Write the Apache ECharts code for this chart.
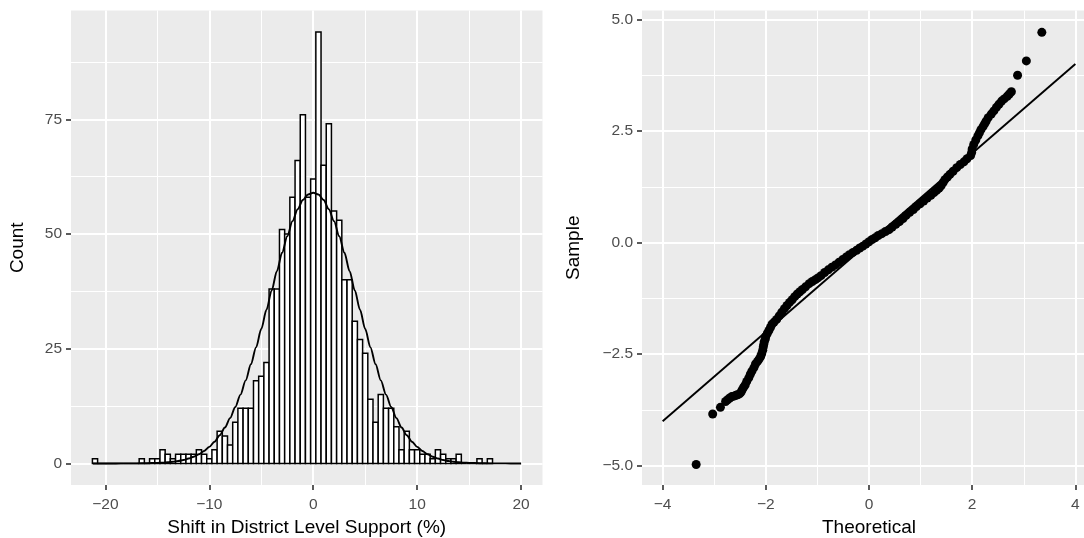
<!DOCTYPE html>
<html>
<head>
<meta charset="utf-8">
<script src="https://cdn.jsdelivr.net/npm/echarts@6/dist/echarts.min.js"></script>
<style>
  html, body { margin: 0; padding: 0; background: #ffffff; }
  #chart { width: 1084px; height: 538px; }
</style>
</head>
<body>
<div id="chart"></div>
<script>
// ---- Histogram: shift in district level support, 0.5-point bins ----
const binWidth = 0.5;
const binCenters = [
  -21, -20.5, -20, -19.5, -19, -18.5, -18, -17.5, -17,
  -16.5, -16, -15.5, -15, -14.5, -14, -13.5, -13, -12.5,
  -12, -11.5, -11, -10.5, -10, -9.5, -9, -8.5, -8,
  -7.5, -7, -6.5, -6, -5.5, -5, -4.5, -4, -3.5,
  -3, -2.5, -2, -1.5, -1, -0.5, 0, 0.5, 1,
  1.5, 2, 2.5, 3, 3.5, 4, 4.5, 5, 5.5,
  6, 6.5, 7, 7.5, 8, 8.5, 9, 9.5, 10,
  10.5, 11, 11.5, 12, 12.5, 13, 13.5, 14, 14.5,
  15, 15.5, 16, 16.5, 17
];
const binCounts = [
  1, 0, 0, 0, 0, 0, 0, 0, 0,
  1, 0, 1, 1, 3, 2, 1, 2, 2,
  2, 2, 3, 2, 1, 3, 7, 6, 4,
  9, 12, 12, 12, 18, 19, 22, 38, 38,
  51, 50, 58, 66, 76, 58, 62, 94, 65,
  74, 55, 53, 40, 40, 31, 27, 24, 14,
  9, 15, 12, 12, 8, 3, 7, 3, 3,
  2, 2, 1, 3, 2, 1, 1, 2, 0,
  0, 0, 1, 0, 1
];

// Fitted normal density, scaled to counts
const curveX = [
  -21.2, -20, -19, -18, -17, -16, -15,
  -14.5, -14, -13.5, -13, -12.5, -12, -11.5, -11, -10.5, -10,
  -9.5, -9, -8.5, -8, -7.5, -7, -6.5, -6, -5.5, -5,
  -4.5, -4, -3.5, -3, -2.5, -2, -1.5, -1, -0.5, 0,
  0.5, 1, 1.5, 2, 2.5, 3, 3.5, 4, 4.5, 5,
  5.5, 6, 6.5, 7, 7.5, 8, 8.5, 9, 9.5, 10,
  10.5, 11, 11.5, 12, 12.5, 13, 13.5, 14, 14.5,
  15, 16, 17, 18, 19, 20
];
const curveY = [
  0, 0, 0, 0.01, 0.02, 0.05, 0.11,
  0.17, 0.25, 0.36, 0.53, 0.75, 1.06, 1.47, 2.01, 2.71, 3.61,
  4.74, 6.14, 7.84, 9.87, 12.3, 15.0, 18.1, 21.6, 25.3, 29.3,
  33.5, 37.7, 41.9, 45.9, 49.5, 52.8, 55.4, 57.4, 58.6, 59.0,
  58.6, 57.4, 55.4, 52.8, 49.5, 45.9, 41.9, 37.7, 33.5, 29.3,
  25.3, 21.6, 18.1, 15.0, 12.3, 9.87, 7.84, 6.14, 4.74, 3.61,
  2.71, 2.01, 1.47, 1.06, 0.75, 0.53, 0.36, 0.25, 0.17,
  0.11, 0.05, 0.02, 0.01, 0, 0
];

// ---- Normal Q-Q plot of the standardised shifts ----
const qqTheoretical = [
  -3.35, -3.03, -2.88, -2.78, -2.74, -2.70, -2.66, -2.62, -2.58, -2.55, -2.51, -2.48,
  -2.46, -2.43, -2.40, -2.37, -2.33, -2.30, -2.27, -2.23, -2.20, -2.16, -2.13, -2.10,
  -2.08, -2.06, -2.05, -2.04, -2.03, -2.01, -2.00, -1.97, -1.94, -1.91, -1.88, -1.84,
  -1.79, -1.74, -1.69, -1.64, -1.59, -1.54, -1.49, -1.44, -1.39, -1.34, -1.29, -1.23,
  -1.16, -1.10, -1.04, -0.99, -0.93, -0.86, -0.79, -0.72, -0.65, -0.58, -0.51, -0.44,
  -0.38, -0.31, -0.24, -0.18, -0.12, -0.06, 0.00, 0.06, 0.12, 0.18, 0.25, 0.32,
  0.39, 0.45, 0.52, 0.59, 0.66, 0.72, 0.79, 0.86, 0.92, 0.99, 1.06, 1.13,
  1.20, 1.26, 1.31, 1.36, 1.40, 1.44, 1.47, 1.52, 1.57, 1.63, 1.70, 1.77,
  1.84, 1.90, 1.97, 1.99, 2.00, 2.03, 2.07, 2.11, 2.14, 2.17, 2.21, 2.24,
  2.27, 2.31, 2.37, 2.42, 2.47, 2.52, 2.57, 2.62, 2.68, 2.72, 2.76,
  2.88, 3.05, 3.35
];
const qqSample = [
  -4.97, -3.84, -3.69, -3.56, -3.52, -3.48, -3.45, -3.44, -3.42, -3.41, -3.39, -3.35,
  -3.30, -3.24, -3.19, -3.11, -3.03, -2.95, -2.88, -2.80, -2.72, -2.66, -2.61, -2.55,
  -2.49, -2.41, -2.34, -2.28, -2.22, -2.16, -2.10, -2.03, -1.97, -1.90, -1.83, -1.78,
  -1.72, -1.64, -1.56, -1.48, -1.41, -1.34, -1.28, -1.21, -1.15, -1.10, -1.05, -0.99,
  -0.92, -0.87, -0.83, -0.79, -0.74, -0.67, -0.61, -0.55, -0.50, -0.44, -0.38, -0.32,
  -0.27, -0.22, -0.17, -0.12, -0.08, -0.03, 0.02, 0.07, 0.11, 0.16, 0.20, 0.25,
  0.29, 0.35, 0.41, 0.47, 0.54, 0.61, 0.68, 0.74, 0.81, 0.87, 0.93, 1.00,
  1.06, 1.12, 1.17, 1.22, 1.28, 1.35, 1.41, 1.47, 1.53, 1.60, 1.68, 1.75,
  1.81, 1.88, 1.95, 2.02, 2.10, 2.20, 2.30, 2.39, 2.46, 2.53, 2.60, 2.66,
  2.72, 2.80, 2.88, 2.95, 3.03, 3.10, 3.17, 3.22, 3.28, 3.33, 3.38,
  3.75, 4.07, 4.71
];
// Reference line (slope 1 through the origin)
const qqLineX = [-4, 4];
const qqLineY = [-4, 4];

// ---- Axis breaks ----
const histXBreaks = [-20, -10, 0, 10, 20];
const histXMinor = [-15, -5, 5, 15];
const histYBreaks = [0, 25, 50, 75];
const histYMinor = [12.5, 37.5, 62.5, 87.5];
const qqXBreaks = [-4, -2, 0, 2, 4];
const qqXMinor = [-3, -1, 1, 3];
const qqYBreaks = [-5, -2.5, 0, 2.5, 5];
const qqYMinor = [-3.75, -1.25, 1.25, 3.75];

// ---- Styling helpers ----
const FONT = 'Liberation Sans, Arial, Helvetica, sans-serif';
const PANEL_BG = '#EBEBEB';
const minus = s => String(s).replace('-', '\u2212');

function majorAxis(opts) {
  return Object.assign({
    type: 'value',
    axisLine: { show: false, onZero: false },
    axisTick: {
      show: true, length: 5, inside: false,
      lineStyle: { color: '#333333', width: 1.6 },
      customValues: opts.breaks
    },
    axisLabel: {
      customValues: opts.breaks,
      color: '#4D4D4D', fontSize: 15.5, fontFamily: FONT,
      margin: opts.labelMargin,
      formatter: opts.formatter
    },
    splitLine: { show: true, lineStyle: { color: '#FFFFFF', width: 2 } },
    minorTick: { show: false },
    minorSplitLine: { show: false },
    nameLocation: 'middle',
    nameTextStyle: { color: '#000000', fontSize: 19, fontFamily: FONT },
    z: 2
  }, opts.extra);
}

function minorAxis(opts) {
  return Object.assign({
    type: 'value',
    axisLine: { show: false, onZero: false },
    axisTick: { show: false, customValues: opts.breaks },
    axisLabel: { show: false, customValues: opts.breaks },
    splitLine: { show: true, lineStyle: { color: '#FFFFFF', width: 1 } },
    minorTick: { show: false },
    minorSplitLine: { show: false },
    z: 1
  }, opts.extra);
}

const histMin = -23.31, histMax = 22.06;
const countMin = -4.7, countMax = 98.7;
const theoMin = -4.4, theoMax = 4.4;
const sampMin = -5.43, sampMax = 5.2;

const chart = echarts.init(document.getElementById('chart'), null, { renderer: 'canvas' });

chart.setOption({
  animation: false,
  backgroundColor: '#FFFFFF',
  textStyle: { fontFamily: FONT },
  grid: [
    { left: 71, top: 10.5, width: 471.5, height: 474.5, show: true,
      backgroundColor: PANEL_BG, borderWidth: 0, containLabel: false, outerBoundsMode: 'none' },
    { left: 642, top: 10.5, width: 454, height: 474.5, show: true,
      backgroundColor: PANEL_BG, borderWidth: 0, containLabel: false, outerBoundsMode: 'none' }
  ],
  xAxis: [
    majorAxis({ breaks: histXBreaks, labelMargin: 12, formatter: v => minus(v),
      extra: { gridIndex: 0, position: 'bottom', min: histMin, max: histMax,
        name: 'Shift in District Level Support (%)', nameGap: 33 } }),
    minorAxis({ breaks: histXMinor,
      extra: { gridIndex: 0, position: 'top', min: histMin, max: histMax } }),
    majorAxis({ breaks: qqXBreaks, labelMargin: 12, formatter: v => minus(v),
      extra: { gridIndex: 1, position: 'bottom', min: theoMin, max: theoMax,
        name: 'Theoretical', nameGap: 33 } }),
    minorAxis({ breaks: qqXMinor,
      extra: { gridIndex: 1, position: 'top', min: theoMin, max: theoMax } })
  ],
  yAxis: [
    majorAxis({ breaks: histYBreaks, labelMargin: 9, formatter: v => minus(v),
      extra: { gridIndex: 0, position: 'left', min: countMin, max: countMax,
        name: 'Count', nameGap: 44, nameRotate: 90 } }),
    minorAxis({ breaks: histYMinor,
      extra: { gridIndex: 0, position: 'right', min: countMin, max: countMax } }),
    majorAxis({ breaks: qqYBreaks, labelMargin: 9, formatter: v => minus(Number(v).toFixed(1)),
      extra: { gridIndex: 1, position: 'left', min: sampMin, max: sampMax,
        name: 'Sample', nameGap: 59, nameRotate: 90 } }),
    minorAxis({ breaks: qqYMinor,
      extra: { gridIndex: 1, position: 'right', min: sampMin, max: sampMax } })
  ],
  series: [
    {
      name: 'bins',
      type: 'custom',
      xAxisIndex: 0, yAxisIndex: 0,
      clip: true,
      z: 3,
      encode: { x: 0, y: 1 },
      data: binCenters.map((c, i) => [c, binCounts[i]]),
      renderItem: function (params, api) {
        const c = api.value(0);
        const n = api.value(1);
        const p0 = api.coord([c - binWidth / 2, 0]);
        const p1 = api.coord([c + binWidth / 2, n]);
        return {
          type: 'rect',
          shape: { x: p0[0], y: p1[1], width: p1[0] - p0[0], height: p0[1] - p1[1] },
          style: { fill: '#FFFFFF', stroke: '#000000', lineWidth: 1.5 }
        };
      }
    },
    {
      name: 'normal',
      type: 'line',
      xAxisIndex: 0, yAxisIndex: 0,
      z: 4,
      showSymbol: false,
      smooth: 0.3,
      smoothMonotone: 'x',
      data: curveX.map((x, i) => [x, curveY[i]]),
      lineStyle: { color: '#000000', width: 1.9 }
    },
    {
      name: 'qq',
      type: 'scatter',
      xAxisIndex: 2, yAxisIndex: 2,
      z: 3,
      symbol: 'circle',
      symbolSize: 9,
      data: qqTheoretical.map((t, i) => [t, qqSample[i]]),
      itemStyle: { color: '#000000', opacity: 1 }
    },
    {
      name: 'qqline',
      type: 'line',
      xAxisIndex: 2, yAxisIndex: 2,
      z: 4,
      showSymbol: false,
      data: qqLineX.map((x, i) => [x, qqLineY[i]]),
      lineStyle: { color: '#000000', width: 1.9 }
    }
  ]
});
</script>
</body>
</html>
